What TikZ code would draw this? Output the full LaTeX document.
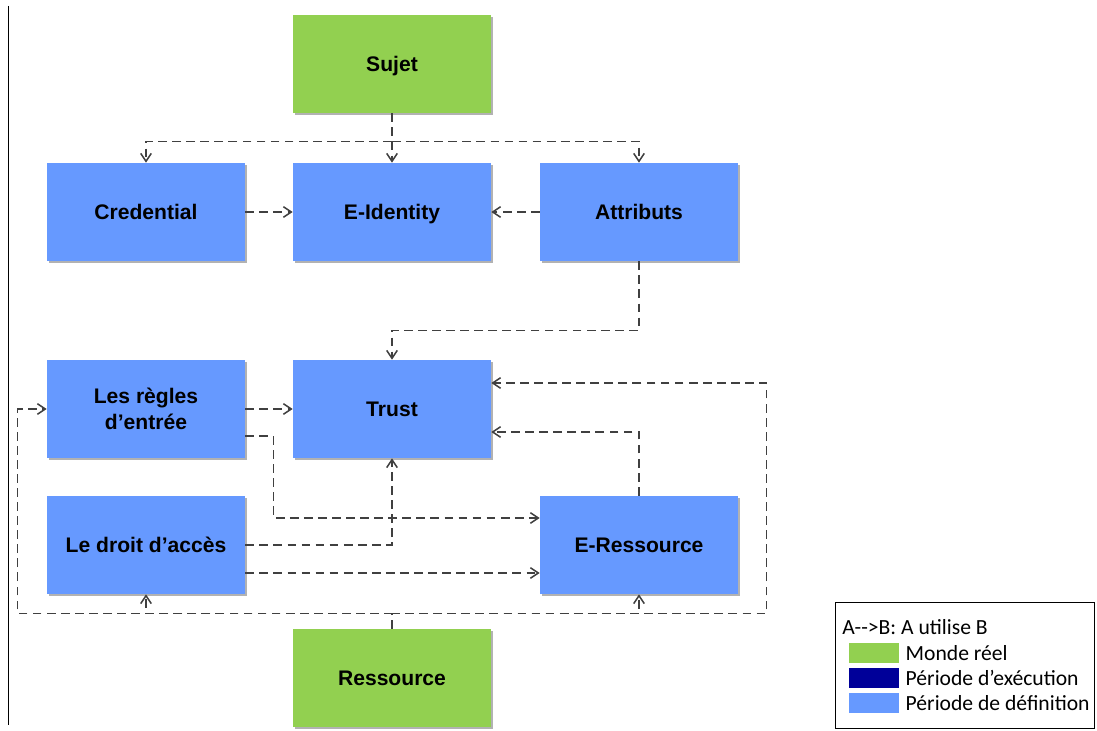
\documentclass[tikz,border=0pt]{standalone}
\usepackage{fontspec}
\setmainfont{Liberation Sans}
\newfontfamily\legendfont{Carlito}
\usetikzlibrary{positioning,arrows.meta,shadows}
\definecolor{reel}{HTML}{92D050}
\definecolor{execution}{HTML}{000099}
\definecolor{definition}{HTML}{6699FF}
\definecolor{lien}{HTML}{404040}

\begin{document}
\begin{tikzpicture}[node distance=2cm,on grid,
  box/.style={rectangle, minimum width=3.96cm, minimum height=1.96cm, inner sep=0pt, align=center,
    font=\bfseries\fontsize{12}{15}\selectfont, text height=8.7pt, text depth=0pt,
    drop shadow={shadow xshift=1.2pt, shadow yshift=-1.2pt, fill=black, opacity=0.3}},
  real/.style={box, fill=reel},
  defn/.style={box, fill=definition},
  uses/.style={color=lien, line width=0.85pt, dash pattern=on 5pt off 3pt,
    -{Straight Barb[length=4.5pt,width=6pt]}},
  swatch/.style={rectangle, minimum width=1cm, minimum height=0.4cm, inner sep=0pt},
  legtext/.style={anchor=west, inner sep=0pt, font=\legendfont\fontsize{12.3}{14}\selectfont}
]
\useasboundingbox (0,0) rectangle (21.94,-14.62);

\draw[line width=0.5pt] (0.16,-0.12) -- (0.16,-14.5);

\node[real] (sujet) at (7.84,-1.28) {Sujet};
\node[defn] (eid) [below=2.96cm of sujet] {E-Identity};
\node[defn] (cred) [left=4.92cm of eid] {Credential};
\node[defn] (attr) [right=4.94cm of eid] {Attributs};
\node[defn] (trust) [below=3.94cm of eid] {Trust};
\node[defn, text height={}, text depth={}] (regles) [left=4.92cm of trust] {Les règles\\d’entrée};
\node[defn] (droit) [below=2.72cm of regles] {Le droit d’accès};
\node[defn] (eres) [right=9.86cm of droit] {E-Ressource};
\node[real] (res) [below=5.38cm of trust] {Ressource};

\path[uses]
(cred) edge (eid)
(attr) edge (eid)
(regles) edge (trust)
([yshift=-0.56cm]droit.east) edge ([yshift=-0.56cm]eres.west)
; %end path

\draw[uses] (sujet.south) -- ++(0,-0.56) -| (cred.north);
\draw[uses] (sujet) -- (eid);
\draw[uses] (sujet.south) -- ++(0,-0.56) -| (attr.north);
\draw[uses] (attr.south) -- ++(0,-1.38) -| (trust.north);
\draw[uses] ([yshift=-0.54cm]regles.east) -- ++(0.56,0) |- ([yshift=0.54cm]eres.west);
\draw[uses] (droit.east) -| (trust.south);
\draw[uses] (eres.north) |- ([yshift=-0.46cm]trust.east);
\draw[uses] (res.north) -- ++(0,0.3) -| ([xshift=-0.58cm]regles.west) -- (regles.west);
\draw[uses] (res.north) -- ++(0,0.3) -| (droit.south);
\draw[uses] (res.north) -- ++(0,0.3) -| (eres.south);
\draw[uses] (res.north) -- ++(0,0.3) -| ([xshift=0.56cm]eres.east) |- ([yshift=0.52cm]trust.east);

% legende
\node[draw, line width=0.6pt, minimum width=5.18cm, minimum height=2.52cm, anchor=north west] (legend) at (16.70,-12.04) {};
\node[legtext] (legtitle) at (16.84,-12.54) {A-{}->B: A utilise B};
\node[swatch, fill=reel] (swreel) at (17.48,-13.06) {};
\node[swatch, fill=execution] (swexec) at (17.48,-13.56) {};
\node[swatch, fill=definition] (swdef) at (17.48,-14.06) {};
\node[legtext] (txreel) at ([xshift=0.12cm]swreel.east) {Monde réel};
\node[legtext] (txexec) at ([xshift=0.12cm]swexec.east) {Période d’exécution};
\node[legtext] (txdef) at ([xshift=0.12cm]swdef.east) {Période de définition};
\end{tikzpicture}
\end{document}
